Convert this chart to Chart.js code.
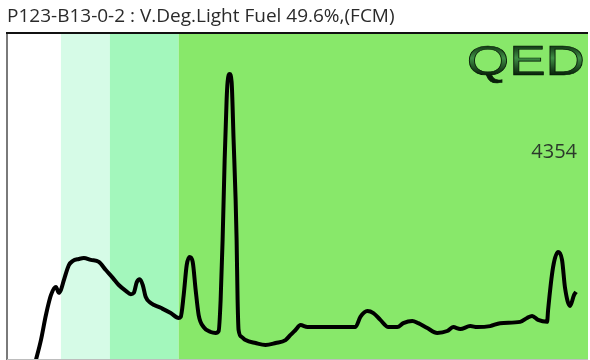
<!DOCTYPE html>
<html>
<head>
<meta charset="utf-8">
<script src="https://cdn.jsdelivr.net/npm/chart.js@4"></script>
<style>
  html, body { margin: 0; padding: 0; background: #fff; }
  #wrap { width: 590px; height: 360px; }
</style>
</head>
<body>
<div id="wrap"><canvas id="chart"></canvas></div>
<script>
// chromatogram trace, x = retention (0-100), y = response (0-1000)
const traceX = [4.98, 5.84, 6.70, 7.56, 8.42, 8.93, 9.28, 9.79, 10.65, 11.34, 12.37, 13.23, 14.43, 15.81, 17.01,
  18.21, 19.24, 20.45, 21.31, 21.82, 22.34, 22.85, 23.37, 23.88, 24.74, 26.46, 28.18, 29.55, 29.90, 30.41,
  30.93, 31.44, 31.96, 32.47, 32.99, 33.85, 35.05, 35.91, 36.43, 36.77, 37.11, 37.46, 37.80, 37.97, 38.32,
  38.66, 39.00, 39.35, 39.52, 39.69, 39.86, 40.38, 41.07, 42.78, 44.50, 46.22, 47.94, 48.80, 49.66, 50.52,
  51.72, 59.97, 60.82, 62.03, 63.06, 64.26, 65.64, 67.18, 68.21, 69.76, 70.79, 72.34, 74.05, 75.77, 76.80,
  78.01, 79.73, 80.93, 83.16, 84.88, 88.32, 89.52, 90.38, 91.41, 92.96, 93.13, 93.99, 94.85, 95.53, 96.05,
  96.91, 97.59, 97.94];
const traceY = [0, 61, 138, 199, 224, 206, 215, 245, 291, 304, 310, 313, 307, 301, 276,
  252, 230, 212, 202, 206, 239, 248, 230, 193, 175, 160, 144, 129, 132, 199,
  291, 316, 301, 215, 138, 101, 86, 83, 89, 184, 368, 613, 798, 853, 877,
  853, 675, 491, 368, 184, 92, 71, 61, 52, 46, 52, 61, 77, 92, 107,
  101, 101, 132, 150, 144, 123, 101, 101, 113, 120, 113, 98, 83, 89, 101,
  95, 104, 101, 104, 113, 117, 129, 135, 123, 117, 153, 285, 331, 307, 221,
  166, 199, 209];

// shaded distillation bands [start, end]
const bandStarts = [0, 9.28, 17.70, 29.55];
const bandEnds = [9.28, 17.70, 29.55, 100];
const bandColors = ['#ffffff', '#d6fbe7', '#a3f7bc', '#88e86a'];

const titleText = 'P123-B13-0-2 : V.Deg.Light Fuel 49.6%,(FCM)';
const countLabel = '4354';
const logoText = 'QED';

const points = traceX.map((x, i) => ({ x: x, y: traceY[i] }));

const bandsPlugin = {
  id: 'bands',
  beforeDatasetsDraw(chart) {
    const { ctx, chartArea: a, scales } = chart;
    ctx.save();
    bandStarts.forEach((s, i) => {
      const x0 = scales.x.getPixelForValue(s);
      const x1 = scales.x.getPixelForValue(bandEnds[i]);
      ctx.fillStyle = bandColors[i];
      ctx.fillRect(x0, a.top, x1 - x0, a.bottom - a.top);
    });
    ctx.restore();
  },
  afterDatasetsDraw(chart) {
    const { ctx, chartArea: a } = chart;
    ctx.save();
    // frame
    ctx.fillStyle = '#111';
    ctx.fillRect(a.left - 1, a.top - 2, a.right - a.left + 1, 2);
    ctx.fillStyle = '#7a7a7a';
    ctx.fillRect(a.left - 1, a.top, 2, a.bottom - a.top);
    ctx.fillStyle = '#bdbdbd';
    ctx.fillRect(a.left, a.bottom - 1, a.right - a.left, 1);

    // logo
    ctx.save();
    ctx.translate(a.right - 3, a.top + 41);
    ctx.scale(1.3, 1);
    ctx.font = '42px "Liberation Sans", Arial, sans-serif';
    ctx.textAlign = 'right';
    ctx.textBaseline = 'alphabetic';
    const g = ctx.createLinearGradient(0, -31, 0, 0);
    g.addColorStop(0, '#0c2a0e');
    g.addColorStop(0.45, '#3f8f45');
    g.addColorStop(1, '#08200a');
    ctx.fillStyle = g;
    ctx.fillText(logoText, 0, 0);
    ctx.lineWidth = 0.7;
    ctx.strokeStyle = '#061806';
    ctx.strokeText(logoText, 0, 0);
    ctx.restore();

    // count label
    ctx.font = '20px "Open Sans", sans-serif';
    ctx.fillStyle = '#2b3a2b';
    ctx.textAlign = 'right';
    ctx.textBaseline = 'alphabetic';
    ctx.fillText(countLabel, a.right - 11, a.top + 124);
    ctx.restore();
  }
};

new Chart(document.getElementById('chart'), {
  type: 'line',
  data: {
    datasets: [{
      data: points,
      borderColor: '#000',
      borderWidth: 4,
      pointRadius: 0,
      cubicInterpolationMode: 'monotone',
      fill: false
    }]
  },
  options: {
    responsive: true,
    maintainAspectRatio: false,
    animation: false,
    layout: { padding: { left: 7, right: 2, top: 0, bottom: 0 } },
    plugins: {
      legend: { display: false },
      tooltip: { enabled: false },
      title: {
        display: true,
        text: titleText,
        align: 'start',
        color: '#2a2a2a',
        font: { family: '"Open Sans", sans-serif', size: 19, weight: 'normal' },
        padding: { top: 5, bottom: 6.2 }
      }
    },
    scales: {
      x: { type: 'linear', min: 0, max: 100, display: false },
      y: { min: 0, max: 1000, display: false }
    }
  },
  plugins: [bandsPlugin]
});
</script>
</body>
</html>
